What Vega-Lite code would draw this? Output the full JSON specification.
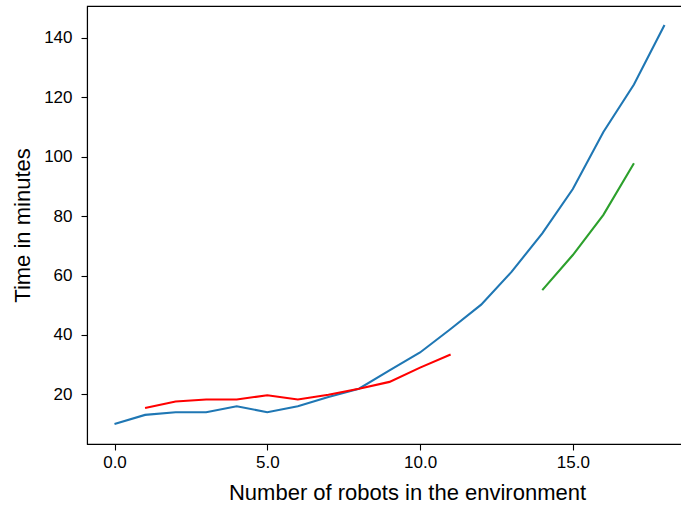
{
  "$schema": "https://vega.github.io/schema/vega-lite/v6.json",
  "autosize": {"type": "none"},
  "padding": {"left": 87, "top": 6, "right": 0, "bottom": 64},
  "width": 605,
  "height": 438,
  "background": "white",
  "config": {
    "font": "Liberation Sans",
    "view": {"stroke": "black", "strokeWidth": 1.1},
    "axis": {
      "grid": false,
      "domainColor": "black",
      "domainWidth": 1.1,
      "tickColor": "black",
      "tickWidth": 1.1,
      "tickSize": 6,
      "labelFont": "Liberation Sans",
      "labelFontSize": 17,
      "labelColor": "black",
      "titleFont": "Liberation Sans",
      "titleFontSize": 22,
      "titleFontWeight": "normal",
      "titleColor": "black"
    }
  },
  "data": {
    "values": [
      {"series": "a", "x": 0, "y": 10.0},
      {"series": "a", "x": 1, "y": 13.1},
      {"series": "a", "x": 2, "y": 14.0},
      {"series": "a", "x": 3, "y": 14.0},
      {"series": "a", "x": 4, "y": 16.0},
      {"series": "a", "x": 5, "y": 14.0},
      {"series": "a", "x": 6, "y": 16.0},
      {"series": "a", "x": 7, "y": 19.1},
      {"series": "a", "x": 8, "y": 21.9},
      {"series": "a", "x": 9, "y": 28.1},
      {"series": "a", "x": 10, "y": 34.1},
      {"series": "a", "x": 11, "y": 42.0},
      {"series": "a", "x": 12, "y": 50.2},
      {"series": "a", "x": 13, "y": 61.3},
      {"series": "a", "x": 14, "y": 74.2},
      {"series": "a", "x": 15, "y": 89.1},
      {"series": "a", "x": 16, "y": 108.3},
      {"series": "a", "x": 17, "y": 124.3},
      {"series": "a", "x": 18, "y": 144.3},
      {"series": "b", "x": 1, "y": 15.4},
      {"series": "b", "x": 2, "y": 17.6},
      {"series": "b", "x": 3, "y": 18.3},
      {"series": "b", "x": 4, "y": 18.3},
      {"series": "b", "x": 5, "y": 19.7},
      {"series": "b", "x": 6, "y": 18.3},
      {"series": "b", "x": 7, "y": 19.9},
      {"series": "b", "x": 8, "y": 21.9},
      {"series": "b", "x": 9, "y": 24.2},
      {"series": "b", "x": 10, "y": 29.0},
      {"series": "b", "x": 11, "y": 33.4},
      {"series": "c", "x": 14, "y": 55.1},
      {"series": "c", "x": 15, "y": 66.9},
      {"series": "c", "x": 16, "y": 80.4},
      {"series": "c", "x": 17, "y": 97.8}
    ]
  },
  "mark": {"type": "line", "strokeWidth": 2.1, "clip": true},
  "encoding": {
    "x": {
      "field": "x",
      "type": "quantitative",
      "scale": {"domain": [-0.9, 18.9], "nice": false, "zero": false},
      "axis": {"values": [0, 5, 10, 15], "format": ".1f", "title": "Number of robots in the environment", "labelPadding": 4, "titlePadding": 12, "titleX": 320, "titleAlign": "center"}
    },
    "y": {
      "field": "y",
      "type": "quantitative",
      "scale": {"domain": [3.3, 150.7], "nice": false, "zero": false},
      "axis": {"values": [20, 40, 60, 80, 100, 120, 140], "title": "Time in minutes", "labelPadding": 9, "titlePadding": 9}
    },
    "color": {
      "field": "series",
      "type": "nominal",
      "scale": {"domain": ["a", "b", "c"], "range": ["#1f77b4", "#ff0000", "#2ca02c"]},
      "legend": null
    }
  }
}
